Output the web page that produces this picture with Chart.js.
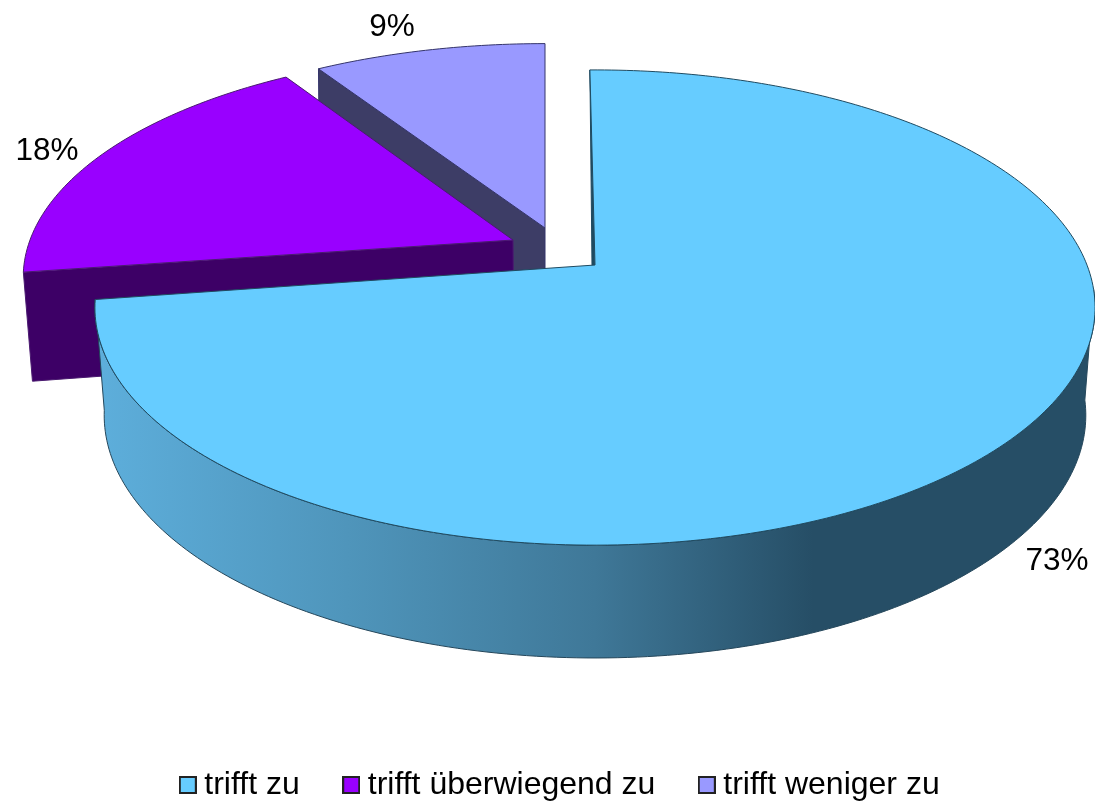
<!DOCTYPE html>
<html><head><meta charset="utf-8">
<style>html,body{margin:0;padding:0;background:#fff}canvas{display:block}</style>
<script src="https://cdn.jsdelivr.net/npm/chart.js@4"></script>
</head><body><canvas id="c" width="1095" height="804"></canvas>
<script>
const categories = ['trifft zu', 'trifft überwiegend zu', 'trifft weniger zu'];
const shares = [73, 18, 9];
const topColors = ['#66CCFF', '#9900FF', '#9999FF'];
const sideColors = ['#3D7A99', '#3D0066', '#3D3D66'];
const edgeColors = ['#1F4A60', '#4A1A70', '#34346A'];

// perspective view of each (exploded) slice; k = foreshortening towards the back
const views = [
  {k:0.179,ax:595,ay:265,a:492,b:230, k2:0.166,bx:595,by:375,a2:484,b2:236, startTweak:-0.7, endTweak:-1.2},
  {k:0.166,ax:513,ay:240,a:483,b:220, k2:0.166,bx:514,by:346,a2:475,b2:241, startTweak:-1, endTweak:0},
  {k:0.166,ax:545,ay:228,a:482,b:215, k2:0.166,bx:545,by:335,a2:480,b2:220, startTweak:0, endTweak:0}
];
const labelAnchors = [[1057,561],[47,151],[392,27]];

function proj(v, deg, bottom) {
  const t = deg * Math.PI / 180, u = Math.sin(t), w = Math.cos(t);
  const d = 1 + (bottom ? v.k2 : v.k) * w;
  return bottom ? [v.bx + v.a2 * u / d, v.by - v.b2 * w / d]
                : [v.ax + v.a * u / d, v.ay - v.b * w / d];
}
function rim(ctx, v, from, to, bottom) {
  const n = Math.max(2, Math.ceil(Math.abs(to - from)));
  for (let i = 0; i <= n; i++) {
    const p = proj(v, from + (to - from) * i / n, bottom);
    ctx.lineTo(p[0], p[1]);
  }
}
function legendSwatch(color) {
  const s = document.createElement('canvas'); s.width = 18; s.height = 18;
  const g = s.getContext('2d');
  g.fillStyle = color; g.fillRect(1, 1, 16, 16);
  g.strokeStyle = '#222'; g.lineWidth = 2; g.strokeRect(1, 1, 16, 16);
  return s;
}

const pie3d = {
  id: 'pie3d',
  afterLayout(chart) {
    const l = chart.legend;
    l.left += 16; l.right += 16; l.top += 7; l.bottom += 7;
  },
  beforeDatasetDraw() { return false; },
  afterDatasetsDraw(chart) {
    const ctx = chart.ctx, meta = chart.getDatasetMeta(0);
    const ang = meta.data.map(a => [(a.startAngle + Math.PI / 2) * 180 / Math.PI,
                                    (a.endAngle + Math.PI / 2) * 180 / Math.PI]);
    ctx.save();
    ctx.lineJoin = 'miter';
    [2, 1, 0].forEach(i => {
      const v = views[i], s = ang[i][0] + v.startTweak, e = ang[i][1] + v.endTweak;
      if (i === 0) {
        // outer wall with a horizontal light falloff
        const gr = ctx.createLinearGradient(100, 0, 1090, 0);
        gr.addColorStop(0, '#5DAEDB');
        gr.addColorStop(0.25, '#4F95BB');
        gr.addColorStop(0.5, '#3F7898');
        gr.addColorStop(0.72, '#264E66');
        gr.addColorStop(1, '#264E66');
        ctx.beginPath();
        rim(ctx, v, 96, e, false);
        rim(ctx, v, e, 96, true);
        ctx.closePath();
        ctx.fillStyle = gr; ctx.fill();
        ctx.strokeStyle = '#24465A'; ctx.lineWidth = 1; ctx.stroke();
        // inner sliver at the start edge
        const o = proj(v, s, false);
        ctx.beginPath(); ctx.moveTo(o[0], o[1]); ctx.lineTo(v.ax, v.ay); ctx.lineTo(v.ax - 3, v.ay + 1); ctx.closePath();
        ctx.fillStyle = '#1F4A60'; ctx.fill(); ctx.strokeStyle = '#1F4A60'; ctx.stroke();
      } else {
        // radial face of the exploded slice
        const o = proj(v, s, false), ob = proj(v, s, true);
        ctx.beginPath(); ctx.moveTo(o[0], o[1]); ctx.lineTo(v.ax, v.ay); ctx.lineTo(v.bx, v.by); ctx.lineTo(ob[0], ob[1]); ctx.closePath();
        ctx.fillStyle = sideColors[i]; ctx.fill();
        ctx.strokeStyle = edgeColors[i]; ctx.lineWidth = 1; ctx.stroke();
      }
      ctx.beginPath();
      ctx.moveTo(v.ax, v.ay);
      rim(ctx, v, s, e, false);
      ctx.closePath();
      ctx.fillStyle = topColors[i]; ctx.fill();
      ctx.strokeStyle = edgeColors[i]; ctx.lineWidth = 1; ctx.stroke();
    });
    // percentage labels
    ctx.fillStyle = '#000';
    ctx.font = '31.5px "Liberation Sans"';
    ctx.textAlign = 'center'; ctx.textBaseline = 'middle';
    shares.forEach((val, i) => ctx.fillText(val + '%', labelAnchors[i][0], labelAnchors[i][1]));
    ctx.restore();
  }
};

new Chart(document.getElementById('c'), {
  type: 'pie',
  data: { labels: categories, datasets: [{ data: shares, backgroundColor: topColors, borderWidth: 0 }] },
  options: {
    responsive: false, animation: false, rotation: 0,
    plugins: {
      tooltip: { enabled: false },
      legend: {
        position: 'bottom',
        labels: {
          color: '#000',
          font: { family: '"Liberation Sans"', size: 32 },
          usePointStyle: true, pointStyleWidth: 1, padding: 51,
          generateLabels: () => categories.map((t, i) => ({
            text: t, fillStyle: topColors[i], strokeStyle: '#222', lineWidth: 2,
            fontColor: '#000',
            pointStyle: legendSwatch(topColors[i]), index: i, hidden: false
          }))
        }
      }
    }
  },
  plugins: [pie3d]
});
</script></body></html>
